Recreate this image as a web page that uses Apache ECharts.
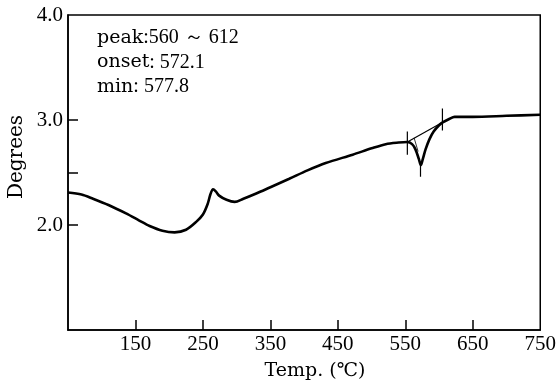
<!DOCTYPE html>
<html>
<head>
<meta charset="utf-8">
<script src="https://cdn.jsdelivr.net/npm/echarts@6/dist/echarts.min.js"></script>
<style>html,body{margin:0;padding:0;background:#fff;}#c{width:559px;height:392px;}</style>
</head>
<body>
<div id="c"></div>
<script>
// Temperature (°C) and curve value (Degrees)
const temps   = [50, 70, 87, 110, 136, 155, 171, 190, 208, 225, 240, 250, 257, 261, 265, 269, 274, 285, 297, 310, 329, 350, 378, 405, 432, 472, 500, 521, 540, 553, 560, 565, 570, 573, 576, 580, 586, 592, 600, 606, 615, 623, 650, 700, 750];
const degrees = [2.31, 2.29, 2.25, 2.19, 2.11, 2.045, 1.99, 1.945, 1.93, 1.955, 2.03, 2.10, 2.20, 2.29, 2.34, 2.32, 2.28, 2.24, 2.22, 2.25, 2.30, 2.36, 2.44, 2.52, 2.59, 2.67, 2.73, 2.77, 2.785, 2.79, 2.77, 2.72, 2.63, 2.57, 2.63, 2.72, 2.82, 2.89, 2.95, 2.98, 3.01, 3.03, 3.03, 3.04, 3.05];
// Baseline drawn across the peak
const baseT = [553, 606];
const baseD = [2.79, 2.98];
// Onset tangent
const tanT = [563, 569];
const tanD = [2.83, 2.70];
// Vertical marker lines: [temp, low, high]
const markers = [[553, 2.67, 2.89], [572.5, 2.46, 2.60], [605, 2.90, 3.11]];
// Axis ticks / labels
const xTickLabels = [150, 250, 350, 450, 550, 650, 750];
const xTicks = [150, 250, 350, 450, 550, 650];
const yTickLabels = [2.0, 3.0, 4.0];
const yTicks = [2.0, 2.5, 3.0];
const notes = [["peak", ":", "560 ～ 612"], ["onset", ": ", "572.1"], ["min", ": ", "577.8"]];

const pair = (a, b) => a.map((v, i) => [v, b[i]]);
const series = [
  {type: 'line', data: pair(temps, degrees), showSymbol: false, smooth: 0.3,
   lineStyle: {color: '#000', width: 2.6}, z: 5},
  {type: 'line', data: pair(baseT, baseD), showSymbol: false,
   lineStyle: {color: '#000', width: 1.2}, z: 4},
  {type: 'line', data: pair(tanT, tanD), showSymbol: false,
   lineStyle: {color: '#000', width: 0.8}, z: 4}
];
markers.forEach(m => series.push({type: 'line', data: [[m[0], m[1]], [m[0], m[2]]], showSymbol: false,
  lineStyle: {color: '#000', width: 1.2}, z: 4}));

const serif = '"Liberation Serif", "DejaVu Serif", serif';
const wide = '"DejaVu Serif", serif';
const noteRich = {w: {fontFamily: wide, fontSize: 19, fill: '#000'},
                  n: {fontFamily: serif, fontSize: 20, fill: '#000'}};

const chart = echarts.init(document.getElementById('c'), null, {renderer: 'canvas'});
chart.setOption({
  animation: false,
  backgroundColor: '#fff',
  grid: {left: 68, top: 15, right: 17, bottom: 62, show: true, borderColor: '#000', borderWidth: 1.5, backgroundColor: 'transparent'},
  xAxis: {
    type: 'value', min: 50, max: 750, interval: 100,
    axisLine: {lineStyle: {color: '#000', width: 1.5}},
    axisTick: {inside: true, length: 10, customValues: xTicks, lineStyle: {color: '#000', width: 1.5}},
    axisLabel: {customValues: xTickLabels, color: '#000', fontFamily: serif, fontSize: 21, margin: 4},
    splitLine: {show: false}
  },
  yAxis: {
    type: 'value', min: 1, max: 4, interval: 0.5,
    axisLine: {lineStyle: {color: '#000', width: 1.5}},
    axisTick: {inside: true, length: 10, customValues: yTicks, lineStyle: {color: '#000', width: 1.5}},
    axisLabel: {customValues: yTickLabels, color: '#000', fontFamily: serif, fontSize: 21, margin: 5,
                formatter: v => v.toFixed(1)},
    splitLine: {show: false}
  },
  graphic: [
    {type: 'text', x: 17, y: 157, rotation: Math.PI / 2,
     style: {text: 'Degrees', fontFamily: wide, fontSize: 20, fill: '#000', textAlign: 'center', textVerticalAlign: 'middle'}},
    {type: 'text', x: 315, y: 371,
     style: {text: 'Temp. (℃)', fontFamily: wide, fontSize: 19, fill: '#000', textAlign: 'center', textVerticalAlign: 'middle'}}
  ].concat(notes.map((n, i) => ({
    type: 'text', x: 97, y: 38 + i * 24.5,
    style: {text: '{w|' + n[0] + '}{n|' + n[1] + n[2] + '}', rich: noteRich, textVerticalAlign: 'middle'}
  }))),
  series: series
});
</script>
</body>
</html>
